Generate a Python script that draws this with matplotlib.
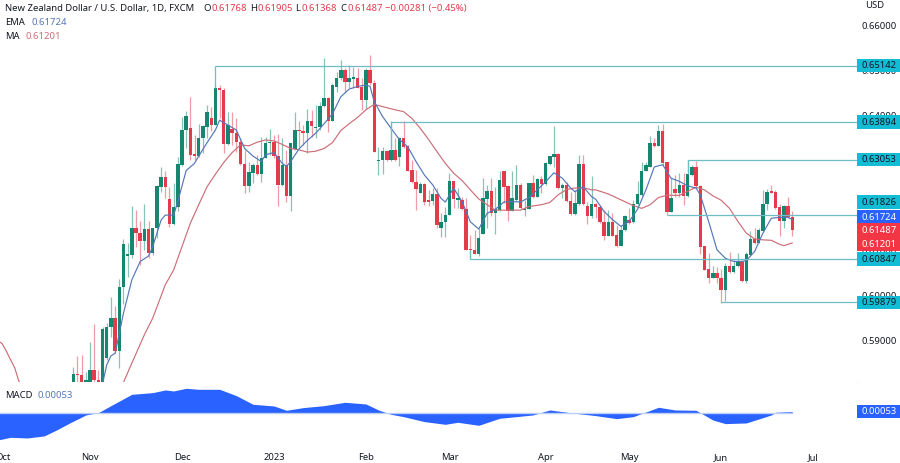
"""NZD/USD daily candles with EMA, MA, MACD pane and marked price levels."""
import matplotlib
matplotlib.use("Agg")
import matplotlib.pyplot as plt
import numpy as np
from matplotlib.patches import Rectangle

plt.rcParams["font.family"] = ["Noto Sans", "DejaVu Sans"]

# quotes in 1/10000 of a dollar, one per trading day
opens = [
    5801, 5829, 5826, 5808, 5812, 5838, 5816, 5812, 5864, 5933,
    5953, 5879, 6022, 6090, 6094, 6153, 6143, 6125, 6151, 6097,
    6153, 6244, 6266, 6217, 6162, 6199, 6293, 6371, 6375, 6317,
    6313, 6353, 6377, 6397, 6382, 6464, 6460, 6340, 6373, 6364,
    6345, 6296, 6247, 6276, 6293, 6273, 6308, 6343, 6345, 6313,
    6249, 6293, 6225, 6328, 6371, 6369, 6365, 6392, 6375, 6377,
    6425, 6442, 6392, 6466, 6486, 6505, 6477, 6485, 6486, 6466,
    6438, 6505, 6476, 6303, 6305, 6325, 6305, 6327, 6312, 6353,
    6336, 6282, 6256, 6230, 6251, 6216, 6214, 6229, 6154, 6167,
    6182, 6258, 6216, 6216, 6196, 6106, 6105, 6096, 6140, 6218,
    6236, 6186, 6193, 6279, 6247, 6190, 6216, 6249, 6193, 6196,
    6253, 6223, 6262, 6251, 6296, 6312, 6318, 6242, 6249, 6214,
    6184, 6207, 6295, 6202, 6179, 6206, 6201, 6166, 6136, 6166,
    6138, 6114, 6148, 6170, 6166, 6206, 6227, 6280, 6289, 6343,
    6336, 6368, 6299, 6188, 6240, 6231, 6249, 6225, 6272, 6289,
    6247, 6114, 6062, 6043, 6053, 6043, 6016, 6069, 6055, 6068,
    6077, 6035, 6094, 6129, 6121, 6146, 6206, 6235, 6233, 6199,
    6168, 6203, 6177,
]
highs = [
    5844, 5868, 5871, 5834, 5901, 5940, 5838, 5934, 5942, 5999,
    5979, 6039, 6128, 6121, 6203, 6193, 6168, 6206, 6168, 6153,
    6249, 6288, 6279, 6244, 6254, 6312, 6401, 6414, 6444, 6360,
    6385, 6382, 6427, 6423, 6471, 6471, 6464, 6412, 6412, 6397,
    6353, 6327, 6301, 6297, 6316, 6355, 6355, 6373, 6360, 6362,
    6353, 6327, 6342, 6412, 6390, 6382, 6417, 6416, 6427, 6434,
    6530, 6445, 6475, 6501, 6527, 6508, 6516, 6512, 6508, 6486,
    6508, 6538, 6482, 6334, 6334, 6327, 6390, 6353, 6356, 6390,
    6338, 6305, 6282, 6256, 6253, 6238, 6242, 6242, 6186, 6201,
    6275, 6258, 6242, 6223, 6219, 6138, 6149, 6153, 6264, 6249,
    6264, 6245, 6279, 6281, 6249, 6279, 6293, 6253, 6216, 6254,
    6271, 6264, 6268, 6299, 6313, 6380, 6319, 6253, 6256, 6234,
    6238, 6315, 6315, 6212, 6268, 6209, 6205, 6194, 6194, 6186,
    6160, 6160, 6183, 6198, 6216, 6257, 6301, 6301, 6358, 6353,
    6383, 6385, 6301, 6264, 6272, 6275, 6275, 6305, 6294, 6303,
    6249, 6114, 6098, 6069, 6066, 6062, 6075, 6101, 6083, 6098,
    6083, 6101, 6146, 6153, 6153, 6238, 6240, 6249, 6238, 6206,
    6205, 6222, 6190,
]
lows = [
    5801, 5812, 5805, 5805, 5808, 5812, 5808, 5808, 5860, 5912,
    5875, 5842, 5985, 6045, 6086, 6112, 6071, 6105, 6086, 6093,
    6131, 6234, 6219, 6156, 6160, 6190, 6290, 6330, 6305, 6305,
    6312, 6319, 6353, 6368, 6382, 6397, 6321, 6338, 6338, 6323,
    6293, 6232, 6234, 6253, 6271, 6256, 6308, 6316, 6308, 6202,
    6247, 6210, 6192, 6327, 6334, 6338, 6319, 6355, 6353, 6371,
    6423, 6366, 6390, 6456, 6482, 6453, 6464, 6464, 6464, 6416,
    6417, 6471, 6323, 6271, 6273, 6303, 6303, 6303, 6290, 6330,
    6279, 6254, 6193, 6230, 6205, 6202, 6205, 6153, 6133, 6134,
    6182, 6197, 6197, 6193, 6105, 6084, 6096, 6091, 6139, 6153,
    6179, 6140, 6192, 6208, 6168, 6190, 6214, 6195, 6180, 6195,
    6219, 6222, 6230, 6249, 6293, 6288, 6239, 6219, 6212, 6183,
    6182, 6205, 6205, 6162, 6175, 6175, 6164, 6127, 6135, 6135,
    6112, 6114, 6146, 6163, 6164, 6205, 6225, 6279, 6289, 6333,
    6335, 6294, 6183, 6188, 6223, 6222, 6205, 6222, 6268, 6244,
    6096, 6059, 6032, 6042, 6031, 5986, 5992, 6053, 6053, 6066,
    6034, 6032, 6094, 6118, 6120, 6146, 6194, 6231, 6195, 6135,
    6153, 6175, 6136,
]
closes = [
    5829, 5826, 5808, 5816, 5838, 5816, 5811, 5928, 5934, 5953,
    5879, 6022, 6118, 6095, 6153, 6142, 6125, 6151, 6097, 6153,
    6247, 6266, 6244, 6162, 6201, 6295, 6371, 6403, 6315, 6314,
    6354, 6379, 6410, 6382, 6465, 6459, 6340, 6382, 6364, 6345,
    6296, 6247, 6278, 6293, 6273, 6308, 6343, 6345, 6313, 6249,
    6293, 6225, 6342, 6371, 6368, 6365, 6392, 6380, 6378, 6425,
    6442, 6392, 6470, 6487, 6505, 6477, 6486, 6488, 6465, 6438,
    6505, 6475, 6323, 6305, 6325, 6305, 6327, 6305, 6353, 6334,
    6281, 6256, 6239, 6251, 6212, 6212, 6228, 6160, 6167, 6183,
    6258, 6217, 6219, 6195, 6105, 6105, 6096, 6130, 6219, 6236,
    6186, 6195, 6259, 6244, 6190, 6219, 6249, 6197, 6196, 6253,
    6222, 6262, 6250, 6297, 6313, 6318, 6242, 6249, 6214, 6185,
    6208, 6295, 6207, 6179, 6206, 6201, 6166, 6136, 6166, 6136,
    6114, 6148, 6179, 6164, 6207, 6229, 6280, 6294, 6343, 6336,
    6368, 6298, 6188, 6220, 6231, 6249, 6225, 6273, 6289, 6247,
    6112, 6060, 6043, 6053, 6043, 6016, 6069, 6055, 6069, 6079,
    6035, 6096, 6129, 6120, 6148, 6206, 6233, 6231, 6198, 6168,
    6203, 6177, 6149,
]

ma_days = [
    -17, -16, -15, -13, -12, -10, 11, 13, 15, 18, 20, 23, 25, 27, 29, 31, 33, 35, 37, 39,
    41, 43, 45, 47, 49, 51, 53, 55, 57, 59, 61, 63, 65, 67, 69, 71, 73, 75, 78, 80,
    82, 84, 86, 88, 90, 92, 94, 96, 98, 100, 102, 104, 106, 108, 110, 113, 115, 117, 119, 121,
    123, 125, 126, 129, 132, 135, 137, 139, 141, 143, 146, 148, 150, 152, 154, 156, 158, 160, 162, 164,
    166, 168, 170, 171, 173,
]
ma_values = [
    5903, 5896, 5879, 5842, 5812, 5786, 5764, 5810, 5853, 5916, 5953, 6027, 6060, 6112, 6164, 6205, 6245, 6273, 6299, 6321,
    6338, 6336, 6344, 6349, 6347, 6339, 6330, 6327, 6322, 6324, 6330, 6343, 6370, 6385, 6399, 6416, 6428, 6423, 6416, 6412,
    6397, 6375, 6350, 6323, 6297, 6275, 6259, 6238, 6218, 6205, 6193, 6193, 6193, 6193, 6201, 6205, 6210, 6227, 6239, 6242,
    6243, 6238, 6238, 6229, 6216, 6203, 6197, 6205, 6221, 6226, 6226, 6235, 6244, 6238, 6225, 6215, 6197, 6168, 6142, 6129,
    6127, 6126, 6117, 6114, 6120.1,
]
ema_days = [
    5, 8, 9, 10, 11, 12, 13, 15, 17, 19, 20, 22, 23, 25, 26, 28, 30, 31, 33, 35,
    36, 38, 40, 42, 44, 46, 47, 49, 51, 52, 53, 55, 57, 59, 61, 63, 65, 67, 69, 71,
    72, 73, 75, 77, 79, 81, 83, 85, 87, 89, 90, 92, 94, 96, 98, 100, 102, 104, 106, 108,
    110, 112, 114, 116, 118, 120, 121, 123, 125, 126, 128, 130, 132, 134, 136, 138, 140, 142, 144, 146,
    148, 150, 151, 153, 155, 157, 159, 161, 162, 164, 166, 168, 170, 172, 173,
]
ema_values = [
    5749, 5808, 5849, 5869, 5875, 5919, 5964, 6038, 6079, 6091, 6112, 6171, 6182, 6182, 6212, 6281, 6297, 6313, 6343, 6371,
    6393, 6382, 6371, 6330, 6313, 6301, 6316, 6321, 6297, 6290, 6301, 6329, 6348, 6364, 6385, 6407, 6445, 6462, 6468, 6471,
    6468, 6434, 6401, 6375, 6350, 6334, 6301, 6271, 6249, 6219, 6211, 6242, 6212, 6167, 6151, 6186, 6195, 6211, 6212, 6211,
    6221, 6238, 6256, 6276, 6264, 6242, 6234, 6245, 6223, 6217, 6190, 6172, 6157, 6168, 6195, 6238, 6289, 6294, 6264, 6257,
    6247, 6242, 6227, 6168, 6105, 6086, 6079, 6079, 6081, 6101, 6142, 6175, 6177, 6177, 6172.4,
]

macd_days = [
    -17, -14, -10, -6, -3, 0, 4, 7, 10, 15, 20, 23, 25, 28, 31, 36, 40, 44, 49, 52,
    56, 61, 66, 71, 74, 77, 80, 85, 90, 93, 98, 103, 111, 115, 121, 126, 131, 135, 141, 145,
    150, 154, 157, 162, 168, 169, 173,
]
macd_values = [
    -.0080, -.0072, -.0074, -.0068, -.0050, -.0030, -.0005, .0002, .0023, .0057,
    .0062, .0070, .0067, .0075, .0072, .0072, .0053, .0027, .0022, .0009,
    .0017, .0023, .0033, .0028, .0010, -.0003, -.0010, -.0025, -.0033, -.0027,
    -.0036, -.0015, -.0005, .0010, .0000, -.0007, -.0016, -.0010, .0018, .0010,
    .0009, -.0020, -.0031, -.0029, -.0005, .0003, .00053,
]

# marked levels: price, day the line starts, price the drop line reaches (or None)
levels = [0.65142, 0.63894, 0.63053, 0.61826, 0.60847, 0.59879]
level_starts = [35, 77, 148, 143, 96, 156]
level_drops = [0.6465, 0.6327, 0.6273, None, 0.6105, None]

month_days = [-15.8, 5, 27, 49, 71, 91, 114, 134, 156, 178]
month_labels = ["Oct", "Nov", "Dec", "2023", "Feb", "Mar", "Apr", "May", "Jun", "Jul"]
price_ticks = [0.66, 0.65, 0.64, 0.63, 0.62, 0.61, 0.60, 0.59]

GREEN = "#15866f"
RED = "#e23b4c"
BLUE_LINE = "#5577b8"
RED_LINE = "#cb6e77"
LEVEL = "#6cbdc6"
CYAN = "#12bcd4"
BLUE = "#2962ff"
LABEL_RED = "#f23645"
TEXT = "#131722"
GRID_EDGE = "#e8eaf0"

W, H = 900, 463
fig = plt.figure(figsize=(W / 100, H / 100), dpi=100, facecolor="white")
ax = fig.add_axes([0, (H - 381.5) / H, 857 / W, 381.5 / H])
ax2 = fig.add_axes([0, (H - 445) / H, 857 / W, 63 / H], sharex=ax)
over = fig.add_axes([0, 0, 1, 1], zorder=5)
over.set_xlim(0, W)
over.set_ylim(0, H)
over.axis("off")

days = np.arange(1, len(opens) + 1)
o, h, l, c = [np.array(a) / 10000 for a in (opens, highs, lows, closes)]
colors = [GREEN if b >= a else RED for a, b in zip(o, c)]

ax.vlines(days, l, h, colors=colors, linewidth=0.9, alpha=0.5, zorder=2)
ax.bar(days, np.maximum(np.abs(c - o), 0.00012), bottom=np.minimum(o, c), width=0.82,
       color=colors, linewidth=0, zorder=3)
ax.plot(ma_days, np.array(ma_values) / 10000, color=RED_LINE, linewidth=0.85, zorder=4)
ax.plot(ema_days, np.array(ema_values) / 10000, color=BLUE_LINE, linewidth=0.85, zorder=4)

ax.set_xlim(-16.54, 188.5)
ax.set_ylim(0.58122, 0.666)
for level, start, drop in zip(levels, level_starts, level_drops):
    ax.hlines(level, start, 188.5, color=LEVEL, linewidth=0.9, zorder=5)
    if drop is not None:
        ax.vlines(start, drop, level, color=LEVEL, linewidth=0.9, zorder=5)

ax.tick_params(left=False, bottom=False, labelleft=False, labelbottom=False)
for side in ("top", "left", "right"):
    ax.spines[side].set_visible(False)
ax.spines["bottom"].set_color(GRID_EDGE)

ax2.fill_between(macd_days, macd_values, 0, color=BLUE, linewidth=0, zorder=2)
ax2.axhline(0, color="#b9cdf5", linewidth=1, xmax=(173 + 16.54) / 205.04, zorder=3)
ax2.set_ylim(-0.00951, 0.00939)
ax2.set_xticks(month_days)
ax2.set_xticklabels(month_labels, fontsize=6.8, color=TEXT)
ax2.get_xticklabels()[3].set_fontweight("bold")
ax2.tick_params(left=False, bottom=False, labelleft=False, pad=2)
for side in ("top", "left", "right", "bottom"):
    ax2.spines[side].set_visible(False)


def price_y(axes, value):
    return axes.transData.transform((0, value))[1]


def price_box(y, text, fill, ink):
    over.add_patch(Rectangle((857, y - 6.8), 42.5, 13.6, facecolor=fill, edgecolor="none", zorder=3))
    over.text(879, y - 0.3, text, fontsize=6.8, color=ink, ha="center", va="center", zorder=4)


# axis figures sit behind the level boxes, as on the original
for tick in price_ticks:
    over.text(879, price_y(ax, tick), f"{tick:.5f}", fontsize=6.8, color=TEXT,
              ha="center", va="center", zorder=2)

for value, shift, fill, ink in [
    (0.65142, 0, CYAN, TEXT),
    (0.63894, 0, CYAN, TEXT),
    (0.63053, 0, CYAN, TEXT),
    (0.61826, 12.8, CYAN, TEXT),
    (0.61724, 2.7, BLUE, "white"),
    (0.61487, 0, LABEL_RED, "white"),
    (0.61201, -1, LABEL_RED, "white"),
    (0.60847, 0, CYAN, TEXT),
    (0.59879, 0, CYAN, TEXT),
]:
    price_box(price_y(ax, value) + shift, f"{value:.5f}", fill, ink)

price_box(price_y(ax2, 0.00053), "0.00053", BLUE, "white")
over.text(865, H - 6, "USD", fontsize=6.8, color=TEXT, va="center")

# header legend
header = [
    (5, "New Zealand Dollar / U.S. Dollar, 1D, FXCM", TEXT),
    (203, "O", TEXT), (212, "0.61768", RED),
    (250, "H", TEXT), (258, "0.61905", RED),
    (295, "L", TEXT), (301, "0.61368", RED),
    (340, "C", TEXT), (347, "0.61487", RED),
    (385, "\u22120.00281 (\u22120.45%)", RED),
]
for x, text, color in header:
    over.text(x, H - 8.5, text, fontsize=6.85, color=color, va="center")
over.text(5, H - 22.5, "EMA", fontsize=6.85, color=TEXT, va="center")
over.text(31, H - 22.5, "0.61724", fontsize=6.85, color=BLUE_LINE, va="center")
over.text(5, H - 36.5, "MA", fontsize=6.85, color=TEXT, va="center")
over.text(26, H - 36.5, "0.61201", fontsize=6.85, color=RED_LINE, va="center")
over.text(5, H - 395, "MACD", fontsize=6.85, color=TEXT, va="center")
over.text(37, H - 395, "0.00053", fontsize=6.85, color=BLUE_LINE, va="center")

fig.savefig("out.png", dpi=100)
plt.close(fig)
